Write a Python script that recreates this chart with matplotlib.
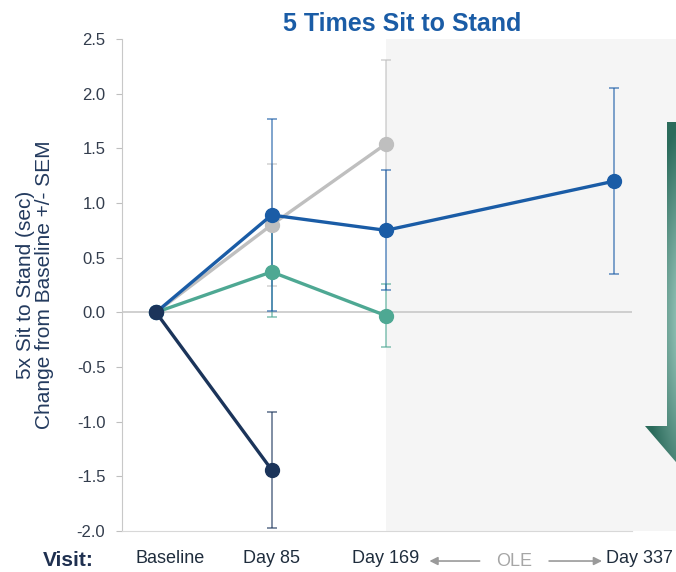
import numpy as np
import matplotlib
matplotlib.use("Agg")
import matplotlib.pyplot as plt
from matplotlib.patches import Polygon
from matplotlib.transforms import ScaledTranslation, blended_transform_factory

plt.rcParams['font.family'] = ['Liberation Sans', 'DejaVu Sans']

visit_labels = ["Baseline", "Day 85", "Day 169", "Day 337"]
visit_days = [0, 85, 169, 337]

gray_days = [0, 85, 169]
gray_vals = [0.0, 0.80, 1.54]
gray_err = [0.0, 0.56, 0.77]

teal_days = [0, 85, 169]
teal_vals = [0.0, 0.37, -0.03]
teal_err = [0.0, 0.41, 0.29]

blue_days = [0, 85, 169, 337]
blue_vals = [0.0, 0.89, 0.75, 1.20]
blue_err = [0.0, 0.88, 0.55, 0.85]

navy_days = [0, 85]
navy_vals = [0.0, -1.44]
navy_err = [0.0, 0.53]

yticks = np.arange(-2.0, 2.51, 0.5)

fig = plt.figure(figsize=(6.76, 5.72), dpi=100)
ax = fig.add_axes([122 / 676, 41 / 572, 510 / 676, 492 / 572])

# open-label extension shading
ax.axvspan(169, 420, color='#f5f5f5', zorder=0, clip_on=False, lw=0)
ax.axhline(0, color='#c8c8c8', lw=1.2, zorder=1)

series = [
    (gray_days, gray_vals, gray_err, '#bfbfbf'),
    (teal_days, teal_vals, teal_err, '#4ea893'),
    (blue_days, blue_vals, blue_err, '#1a5ca6'),
    (navy_days, navy_vals, navy_err, '#1b345a'),
]
for i, (d, v, e, c) in enumerate(series):
    ax.errorbar(d, v, yerr=e, fmt='none', ecolor=c, elinewidth=1.3,
                capsize=3.5, capthick=1.3, alpha=0.6, zorder=2 + i)
    ax.plot(d, v, '-o', color=c, lw=2.4, ms=10, zorder=6 + i)

ax.set_xlim(-25, 350)
ax.set_ylim(-2.0, 2.5)
ax.set_yticks(yticks)
ax.set_yticklabels([f"{t:.1f}" for t in yticks])
ax.tick_params(axis='y', length=4, color='#bfbfbf', labelsize=12,
               labelcolor='#333d4d', pad=8)

ax.set_xticks(visit_days)
ax.set_xticklabels(visit_labels)
ax.tick_params(axis='x', length=0, labelsize=13, labelcolor='#1f2d3d', pad=14)
xl = ax.get_xticklabels()
xl[0].set_transform(xl[0].get_transform() + ScaledTranslation(14 / 100, 0, fig.dpi_scale_trans))
xl[3].set_transform(xl[3].get_transform() + ScaledTranslation(-8 / 100, 0, fig.dpi_scale_trans))
xl[3].set_ha('left')

for s in ['top', 'right']:
    ax.spines[s].set_visible(False)
ax.spines['left'].set_color('#c8c8c8')
ax.spines['bottom'].set_color('#d8d8d8')

ax.set_ylabel("5x Sit to Stand (sec)\nChange from Baseline +/- SEM",
              fontsize=15, color='#233a5e', linespacing=1.05, labelpad=16)
ax.set_title("5 Times Sit to Stand", fontsize=18, fontweight='bold',
             color='#1a5ca6', pad=6, x=0.55)

# OLE annotation under the x axis
tr = blended_transform_factory(ax.transData, ax.transAxes)
ax.annotate("", xy=(199, -0.061), xytext=(240, -0.061), xycoords=tr, textcoords=tr,
            arrowprops=dict(arrowstyle='-|>', color='#9a9a9a', lw=1.2, mutation_scale=12),
            annotation_clip=False)
ax.annotate("", xy=(330, -0.061), xytext=(287, -0.061), xycoords=tr, textcoords=tr,
            arrowprops=dict(arrowstyle='-|>', color='#9a9a9a', lw=1.2, mutation_scale=12),
            annotation_clip=False)
ax.text(263, -0.061, "OLE", transform=tr, ha='center', va='center',
        fontsize=13, color='#a6a6a6')
fig.text(68 / 676, 1 - 561 / 572, "Visit:", ha='center', va='center',
         fontsize=15, fontweight='bold', color='#1f3050')

# gradient arrow on the right edge
ov = fig.add_axes([0, 0, 1, 1], zorder=10)
ov.set_xlim(0, 676)
ov.set_ylim(572, 0)
ov.axis('off')
xs = np.linspace(640, 700, 120)
ys = np.linspace(115, 500, 400)
X, Y = np.meshgrid(xs, ys)
r = np.sqrt(((X - 690) / 45) ** 2 + ((Y - 320) / 200) ** 2)
r = np.clip(r, 0, 1)
light = np.array([0.72, 0.88, 0.84])
dark = np.array([0.17, 0.42, 0.36])
img = light[None, None, :] * (1 - r[..., None]) + dark[None, None, :] * r[..., None]
im = ov.imshow(img, extent=(640, 700, 500, 115), origin='upper', aspect='auto')
arrow = Polygon([(667, 122), (700, 122), (700, 490), (645, 426), (667, 426)],
                closed=True, transform=ov.transData, facecolor='none', edgecolor='none')
ov.add_patch(arrow)
im.set_clip_path(arrow)

fig.savefig("out.png", dpi=100)
